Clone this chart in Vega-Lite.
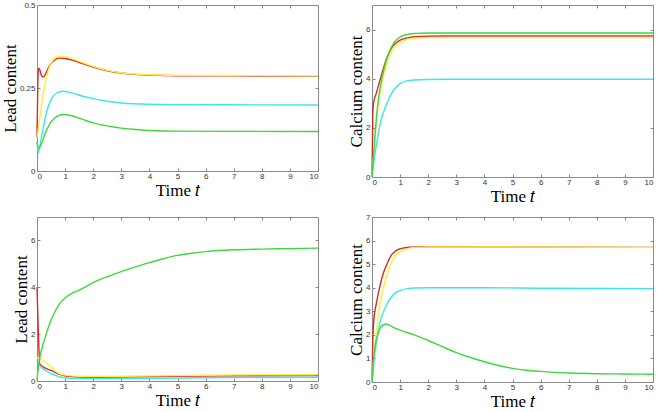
{
  "$schema": "https://vega.github.io/schema/vega-lite/v6.json",
  "padding": {"left": 0, "top": 0, "right": 0, "bottom": 0},
  "background": "white",
  "config": {
    "view": {"stroke": "#8a8a8a", "strokeWidth": 1},
    "axis": {
      "grid": false, "domain": false,
      "labelFont": "Liberation Sans", "labelFontSize": 8, "labelColor": "#333", "labelPadding": 5,
      "tickColor": "#888", "tickSize": -3,
      "titleFont": "Liberation Serif", "titleFontSize": 17, "titleFontWeight": "normal", "titleColor": "#000"
    },
    "axisBottom": {"labelPadding": 4, "titlePadding": 2},
    "line": {"strokeWidth": 1.4, "interpolate": "monotone"}
  },
  "datasets": {
    "p1": [
      {"s":"red","t":0,"v":0.1},{"s":"red","t":0.03,"v":0.27},{"s":"red","t":0.06,"v":0.31},{"s":"red","t":0.1,"v":0.305},{"s":"red","t":0.15,"v":0.29},{"s":"red","t":0.22,"v":0.283},{"s":"red","t":0.3,"v":0.292},{"s":"red","t":0.45,"v":0.318},{"s":"red","t":0.6,"v":0.333},{"s":"red","t":0.8,"v":0.34},{"s":"red","t":1,"v":0.339},{"s":"red","t":1.3,"v":0.333},{"s":"red","t":1.6,"v":0.324},{"s":"red","t":2,"v":0.313},{"s":"red","t":2.5,"v":0.302},{"s":"red","t":3,"v":0.295},{"s":"red","t":3.5,"v":0.291},{"s":"red","t":4,"v":0.289},{"s":"red","t":5,"v":0.287},{"s":"red","t":10,"v":0.286},
      {"s":"yellow","t":0,"v":0.1},{"s":"yellow","t":0.1,"v":0.16},{"s":"yellow","t":0.2,"v":0.22},{"s":"yellow","t":0.3,"v":0.27},{"s":"yellow","t":0.45,"v":0.315},{"s":"yellow","t":0.6,"v":0.337},{"s":"yellow","t":0.8,"v":0.346},{"s":"yellow","t":1,"v":0.344},{"s":"yellow","t":1.3,"v":0.337},{"s":"yellow","t":1.6,"v":0.327},{"s":"yellow","t":2,"v":0.315},{"s":"yellow","t":2.5,"v":0.303},{"s":"yellow","t":3,"v":0.296},{"s":"yellow","t":3.5,"v":0.292},{"s":"yellow","t":4,"v":0.29},{"s":"yellow","t":5,"v":0.288},{"s":"yellow","t":10,"v":0.287},
      {"s":"cyan","t":0,"v":0.085},{"s":"cyan","t":0.05,"v":0.055},{"s":"cyan","t":0.1,"v":0.075},{"s":"cyan","t":0.2,"v":0.12},{"s":"cyan","t":0.35,"v":0.18},{"s":"cyan","t":0.5,"v":0.215},{"s":"cyan","t":0.7,"v":0.235},{"s":"cyan","t":0.9,"v":0.24},{"s":"cyan","t":1.2,"v":0.236},{"s":"cyan","t":1.6,"v":0.226},{"s":"cyan","t":2,"v":0.218},{"s":"cyan","t":2.5,"v":0.21},{"s":"cyan","t":3,"v":0.205},{"s":"cyan","t":4,"v":0.201},{"s":"cyan","t":5,"v":0.2},{"s":"cyan","t":10,"v":0.199},
      {"s":"green","t":0,"v":0.09},{"s":"green","t":0.07,"v":0.068},{"s":"green","t":0.15,"v":0.08},{"s":"green","t":0.3,"v":0.115},{"s":"green","t":0.5,"v":0.148},{"s":"green","t":0.7,"v":0.164},{"s":"green","t":0.95,"v":0.17},{"s":"green","t":1.2,"v":0.167},{"s":"green","t":1.6,"v":0.156},{"s":"green","t":2,"v":0.145},{"s":"green","t":2.5,"v":0.136},{"s":"green","t":3,"v":0.129},{"s":"green","t":3.5,"v":0.125},{"s":"green","t":4,"v":0.122},{"s":"green","t":5,"v":0.12},{"s":"green","t":10,"v":0.119}
    ],
    "p2": [
      {"s":"red","t":0,"v":0},{"s":"red","t":0.03,"v":2.6},{"s":"red","t":0.06,"v":3.05},{"s":"red","t":0.15,"v":3.4},{"s":"red","t":0.25,"v":3.8},{"s":"red","t":0.4,"v":4.4},{"s":"red","t":0.55,"v":4.9},{"s":"red","t":0.7,"v":5.25},{"s":"red","t":0.85,"v":5.45},{"s":"red","t":1,"v":5.57},{"s":"red","t":1.25,"v":5.66},{"s":"red","t":1.5,"v":5.71},{"s":"red","t":2,"v":5.73},{"s":"red","t":3,"v":5.74},{"s":"red","t":10,"v":5.74},
      {"s":"yellow","t":0,"v":0},{"s":"yellow","t":0.1,"v":1.5},{"s":"yellow","t":0.2,"v":2.7},{"s":"yellow","t":0.3,"v":3.5},{"s":"yellow","t":0.45,"v":4.3},{"s":"yellow","t":0.6,"v":4.85},{"s":"yellow","t":0.8,"v":5.28},{"s":"yellow","t":1,"v":5.47},{"s":"yellow","t":1.25,"v":5.6},{"s":"yellow","t":1.5,"v":5.65},{"s":"yellow","t":2,"v":5.68},{"s":"yellow","t":10,"v":5.68},
      {"s":"cyan","t":0,"v":0},{"s":"cyan","t":0.1,"v":0.9},{"s":"cyan","t":0.2,"v":1.6},{"s":"cyan","t":0.3,"v":2.2},{"s":"cyan","t":0.55,"v":3.05},{"s":"cyan","t":0.75,"v":3.5},{"s":"cyan","t":1,"v":3.8},{"s":"cyan","t":1.2,"v":3.9},{"s":"cyan","t":1.5,"v":3.95},{"s":"cyan","t":2,"v":3.97},{"s":"cyan","t":3,"v":3.98},{"s":"cyan","t":10,"v":3.98},
      {"s":"green","t":0,"v":0},{"s":"green","t":0.1,"v":1.6},{"s":"green","t":0.2,"v":2.9},{"s":"green","t":0.3,"v":3.7},{"s":"green","t":0.45,"v":4.5},{"s":"green","t":0.6,"v":5.05},{"s":"green","t":0.8,"v":5.5},{"s":"green","t":1,"v":5.7},{"s":"green","t":1.25,"v":5.8},{"s":"green","t":1.5,"v":5.84},{"s":"green","t":2,"v":5.86},{"s":"green","t":10,"v":5.86}
    ],
    "p3": [
      {"s":"red","t":0,"v":4.0},{"s":"red","t":0.05,"v":2.0},{"s":"red","t":0.1,"v":0.72},{"s":"red","t":0.3,"v":0.55},{"s":"red","t":0.5,"v":0.45},{"s":"red","t":0.75,"v":0.3},{"s":"red","t":1,"v":0.22},{"s":"red","t":1.5,"v":0.17},{"s":"red","t":2,"v":0.16},{"s":"red","t":3,"v":0.17},{"s":"red","t":5,"v":0.2},{"s":"red","t":7,"v":0.22},{"s":"red","t":10,"v":0.23},
      {"s":"yellow","t":0,"v":1.0},{"s":"yellow","t":0.1,"v":0.95},{"s":"yellow","t":0.3,"v":0.8},{"s":"yellow","t":0.5,"v":0.6},{"s":"yellow","t":0.75,"v":0.35},{"s":"yellow","t":1,"v":0.25},{"s":"yellow","t":1.5,"v":0.2},{"s":"yellow","t":2,"v":0.19},{"s":"yellow","t":3,"v":0.2},{"s":"yellow","t":5,"v":0.23},{"s":"yellow","t":7,"v":0.26},{"s":"yellow","t":10,"v":0.27},
      {"s":"cyan","t":0,"v":0.75},{"s":"cyan","t":0.1,"v":0.65},{"s":"cyan","t":0.3,"v":0.45},{"s":"cyan","t":0.5,"v":0.32},{"s":"cyan","t":0.75,"v":0.2},{"s":"cyan","t":1,"v":0.14},{"s":"cyan","t":1.5,"v":0.11},{"s":"cyan","t":2,"v":0.1},{"s":"cyan","t":3,"v":0.11},{"s":"cyan","t":5,"v":0.13},{"s":"cyan","t":7,"v":0.15},{"s":"cyan","t":10,"v":0.16},
      {"s":"green","t":0,"v":0.05},{"s":"green","t":0.05,"v":0.6},{"s":"green","t":0.1,"v":1.0},{"s":"green","t":0.25,"v":1.7},{"s":"green","t":0.5,"v":2.6},{"s":"green","t":0.75,"v":3.2},{"s":"green","t":1,"v":3.55},{"s":"green","t":1.25,"v":3.75},{"s":"green","t":1.5,"v":3.88},{"s":"green","t":2,"v":4.2},{"s":"green","t":2.5,"v":4.45},{"s":"green","t":3,"v":4.67},{"s":"green","t":3.5,"v":4.87},{"s":"green","t":4,"v":5.05},{"s":"green","t":4.5,"v":5.22},{"s":"green","t":5,"v":5.36},{"s":"green","t":5.5,"v":5.45},{"s":"green","t":6,"v":5.52},{"s":"green","t":7,"v":5.6},{"s":"green","t":8,"v":5.63},{"s":"green","t":9,"v":5.65},{"s":"green","t":10,"v":5.67}
    ],
    "p4": [
      {"s":"red","t":0,"v":0},{"s":"red","t":0.03,"v":1.8},{"s":"red","t":0.07,"v":2.7},{"s":"red","t":0.15,"v":3.3},{"s":"red","t":0.25,"v":3.9},{"s":"red","t":0.4,"v":4.6},{"s":"red","t":0.55,"v":5.05},{"s":"red","t":0.7,"v":5.4},{"s":"red","t":0.85,"v":5.57},{"s":"red","t":1,"v":5.65},{"s":"red","t":1.25,"v":5.71},{"s":"red","t":1.5,"v":5.73},{"s":"red","t":2,"v":5.74},{"s":"red","t":4,"v":5.73},{"s":"red","t":10,"v":5.71},
      {"s":"yellow","t":0,"v":0},{"s":"yellow","t":0.1,"v":1.5},{"s":"yellow","t":0.2,"v":2.6},{"s":"yellow","t":0.3,"v":3.4},{"s":"yellow","t":0.45,"v":4.2},{"s":"yellow","t":0.6,"v":4.8},{"s":"yellow","t":0.8,"v":5.3},{"s":"yellow","t":1,"v":5.52},{"s":"yellow","t":1.25,"v":5.65},{"s":"yellow","t":1.5,"v":5.71},{"s":"yellow","t":2,"v":5.73},{"s":"yellow","t":4,"v":5.73},{"s":"yellow","t":10,"v":5.71},
      {"s":"cyan","t":0,"v":0},{"s":"cyan","t":0.1,"v":1.2},{"s":"cyan","t":0.2,"v":2.0},{"s":"cyan","t":0.3,"v":2.6},{"s":"cyan","t":0.45,"v":3.1},{"s":"cyan","t":0.6,"v":3.45},{"s":"cyan","t":0.8,"v":3.75},{"s":"cyan","t":1,"v":3.88},{"s":"cyan","t":1.25,"v":3.96},{"s":"cyan","t":1.5,"v":3.99},{"s":"cyan","t":2,"v":4.0},{"s":"cyan","t":4,"v":4.0},{"s":"cyan","t":6,"v":3.98},{"s":"cyan","t":10,"v":3.96},
      {"s":"green","t":0,"v":0},{"s":"green","t":0.05,"v":0.9},{"s":"green","t":0.12,"v":1.6},{"s":"green","t":0.2,"v":2.0},{"s":"green","t":0.3,"v":2.3},{"s":"green","t":0.42,"v":2.44},{"s":"green","t":0.5,"v":2.46},{"s":"green","t":0.6,"v":2.42},{"s":"green","t":0.8,"v":2.3},{"s":"green","t":1,"v":2.2},{"s":"green","t":1.5,"v":2.0},{"s":"green","t":2,"v":1.76},{"s":"green","t":2.5,"v":1.5},{"s":"green","t":3,"v":1.25},{"s":"green","t":3.5,"v":1.04},{"s":"green","t":4,"v":0.86},{"s":"green","t":4.5,"v":0.7},{"s":"green","t":5,"v":0.58},{"s":"green","t":5.5,"v":0.5},{"s":"green","t":6,"v":0.45},{"s":"green","t":7,"v":0.38},{"s":"green","t":8,"v":0.35},{"s":"green","t":9,"v":0.34},{"s":"green","t":10,"v":0.33}
    ]
  },
  "spacing": 7,
  "vconcat": [
    {"spacing": 25, "hconcat": [
      {"width": 281, "height": 166, "data": {"name": "p1"},
       "encoding": {
         "x": {"field": "t", "type": "quantitative", "scale": {"domain": [0, 10], "nice": false}},
         "y": {"field": "v", "type": "quantitative", "scale": {"domain": [0, 0.5], "nice": false}},
         "color": {"field": "s", "type": "nominal", "legend": null, "scale": {"domain": ["red","yellow","cyan","green"], "range": ["#d62b2b","#ffee3a","#3ce6ec","#3ed83e"]}}
       },
       "layer": [
         {"mark": "line", "encoding": {
           "x": {"field": "t", "type": "quantitative", "axis": {"values": [0,1,2,3,4,5,6,7,8,9,10], "title": "Time 𝑡"}},
           "y": {"field": "v", "type": "quantitative", "axis": {"values": [0, 0.25, 0.5], "labelExpr": "'' + datum.value", "title": "Lead content", "titlePadding": 0}}}},
         {"mark": {"type": "line", "strokeOpacity": 0}, "encoding": {
           "x": {"field": "t", "type": "quantitative", "axis": {"orient": "top", "values": [0,1,2,3,4,5,6,7,8,9,10], "labels": false, "title": null}},
           "y": {"field": "v", "type": "quantitative", "axis": {"orient": "right", "values": [0, 0.25, 0.5], "labels": false, "title": null}}}}
       ],
       "resolve": {"axis": {"x": "independent", "y": "independent"}}},
      {"width": 281, "height": 172, "data": {"name": "p2"},
       "encoding": {
         "x": {"field": "t", "type": "quantitative", "scale": {"domain": [0, 10], "nice": false}},
         "y": {"field": "v", "type": "quantitative", "scale": {"domain": [0, 7], "nice": false}},
         "color": {"field": "s", "type": "nominal", "legend": null, "scale": {"domain": ["red","yellow","cyan","green"], "range": ["#d62b2b","#ffee3a","#3ce6ec","#3ed83e"]}}
       },
       "layer": [
         {"mark": "line", "encoding": {
           "x": {"field": "t", "type": "quantitative", "axis": {"values": [0,1,2,3,4,5,6,7,8,9,10], "title": "Time 𝑡"}},
           "y": {"field": "v", "type": "quantitative", "axis": {"values": [0, 2, 4, 6], "title": "Calcium content", "titlePadding": 0}}}},
         {"mark": {"type": "line", "strokeOpacity": 0}, "encoding": {
           "x": {"field": "t", "type": "quantitative", "axis": {"orient": "top", "values": [0,1,2,3,4,5,6,7,8,9,10], "labels": false, "title": null}},
           "y": {"field": "v", "type": "quantitative", "axis": {"orient": "right", "values": [0, 2, 4, 6], "labels": false, "title": null}}}}
       ],
       "resolve": {"axis": {"x": "independent", "y": "independent"}}}
    ]},
    {"spacing": 25, "hconcat": [
      {"width": 281, "height": 164, "data": {"name": "p3"},
       "encoding": {
         "x": {"field": "t", "type": "quantitative", "scale": {"domain": [0, 10], "nice": false}},
         "y": {"field": "v", "type": "quantitative", "scale": {"domain": [0, 7], "nice": false}},
         "color": {"field": "s", "type": "nominal", "legend": null, "scale": {"domain": ["red","yellow","cyan","green"], "range": ["#d62b2b","#ffee3a","#3ce6ec","#3ed83e"]}}
       },
       "layer": [
         {"mark": "line", "encoding": {
           "x": {"field": "t", "type": "quantitative", "axis": {"values": [0,1,2,3,4,5,6,7,8,9,10], "title": "Time 𝑡"}},
           "y": {"field": "v", "type": "quantitative", "axis": {"values": [0, 2, 4, 6], "title": "Lead content", "titlePadding": 0}}}},
         {"mark": {"type": "line", "strokeOpacity": 0}, "encoding": {
           "x": {"field": "t", "type": "quantitative", "axis": {"orient": "top", "values": [0,1,2,3,4,5,6,7,8,9,10], "labels": false, "title": null}},
           "y": {"field": "v", "type": "quantitative", "axis": {"orient": "right", "values": [0, 2, 4, 6], "labels": false, "title": null}}}}
       ],
       "resolve": {"axis": {"x": "independent", "y": "independent"}}},
      {"width": 281, "height": 165, "data": {"name": "p4"},
       "encoding": {
         "x": {"field": "t", "type": "quantitative", "scale": {"domain": [0, 10], "nice": false}},
         "y": {"field": "v", "type": "quantitative", "scale": {"domain": [0, 7], "nice": false}},
         "color": {"field": "s", "type": "nominal", "legend": null, "scale": {"domain": ["red","yellow","cyan","green"], "range": ["#d62b2b","#ffee3a","#3ce6ec","#3ed83e"]}}
       },
       "layer": [
         {"mark": "line", "encoding": {
           "x": {"field": "t", "type": "quantitative", "axis": {"values": [0,1,2,3,4,5,6,7,8,9,10], "title": "Time 𝑡"}},
           "y": {"field": "v", "type": "quantitative", "axis": {"values": [0,1,2,3,4,5,6,7], "title": "Calcium content", "titlePadding": 0}}}},
         {"mark": {"type": "line", "strokeOpacity": 0}, "encoding": {
           "x": {"field": "t", "type": "quantitative", "axis": {"orient": "top", "values": [0,1,2,3,4,5,6,7,8,9,10], "labels": false, "title": null}},
           "y": {"field": "v", "type": "quantitative", "axis": {"orient": "right", "values": [0,1,2,3,4,5,6,7], "labels": false, "title": null}}}}
       ],
       "resolve": {"axis": {"x": "independent", "y": "independent"}}}
    ]}
  ]
}
